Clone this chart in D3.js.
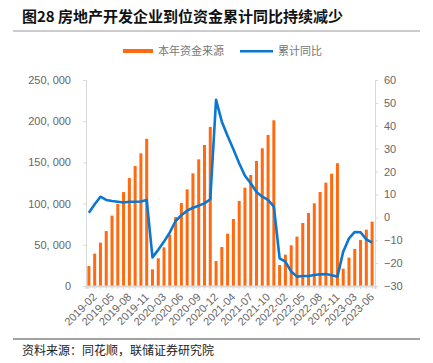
<!DOCTYPE html>
<html><head><meta charset="utf-8">
<script src="https://cdn.jsdelivr.net/npm/d3@7"></script>
<style>
body{margin:0;background:#fff;}
svg{display:block;}
</style></head>
<body><svg id="c" width="433" height="363"></svg>
<script>
const categories = ["2019-02","2019-03","2019-04","2019-05","2019-06","2019-07","2019-08","2019-09","2019-10","2019-11","2019-12",
"2020-02","2020-03","2020-04","2020-05","2020-06","2020-07","2020-08","2020-09","2020-10","2020-11","2020-12",
"2021-02","2021-03","2021-04","2021-05","2021-06","2021-07","2021-08","2021-09","2021-10","2021-11","2021-12",
"2022-02","2022-03","2022-04","2022-05","2022-06","2022-07","2022-08","2022-09","2022-10","2022-11","2022-12",
"2023-02","2023-03","2023-04","2023-05","2023-06","2023-07"];
const funds = [24270,39240,52600,66700,85400,99500,114000,131000,145600,161000,178600,
20200,33600,46900,62300,83700,100700,117300,136700,153700,171100,193100,
30300,47300,63500,81300,103200,119300,134700,151700,167100,183300,201100,
25500,38000,49400,59900,76500,88600,100300,114100,125400,136300,149000,
21000,34400,44900,55800,68400,78100];
const yoy = [2.0,5.7,9.0,7.6,7.1,6.8,6.5,6.8,6.8,6.9,7.6,
-17.5,-14.2,-10.6,-6.6,-1.6,0.9,2.9,4.2,5.1,6.1,7.9,
51.3,41.8,35.5,29.7,23.6,18.2,14.9,11.1,9.0,7.6,4.7,
-17.9,-19.4,-23.7,-25.9,-25.6,-25.6,-25.2,-24.9,-24.8,-25.3,-25.9,
-15.0,-9.2,-6.4,-6.5,-9.6,-11.1];
const xTickLabels = ["2019-02","2019-05","2019-08","2019-11","2020-03","2020-06","2020-09","2020-12","2021-04","2021-07","2021-10","2022-02","2022-05","2022-08","2022-11","2023-03","2023-06"];
const leftTicks = [0,50000,100000,150000,200000,250000];
const rightTicks = [-30,-20,-10,0,10,20,30,40,50,60];
const seriesNames = ["本年资金来源","累计同比"];
const title = "图28 房地产开发企业到位资金累计同比持续减少";
const source = "资料来源：同花顺，联储证券研究院";

const svg = d3.select("#c");
const L = 86, R = 375, T = 80, B = 286;
const orange = "#ff6a10", blue = "#0a78d0", grayText = "#666";
const numFont = "'Liberation Sans', Arial, sans-serif";
const cjk = "'Noto Sans CJK SC', sans-serif";

const x = d3.scaleBand().domain(categories).range([L, R]).paddingInner(0).paddingOuter(0);
const yL = d3.scaleLinear().domain([0,250000]).range([B, T]);
const yR = d3.scaleLinear().domain([-30,60]).range([B, T]);

// title
svg.append("text").attr("x",22).attr("y",22).attr("font-family",cjk).attr("font-weight","bold")
  .attr("font-size",15).attr("fill","#111").text(title);
svg.append("line").attr("x1",13).attr("x2",420).attr("y1",31).attr("y2",31).attr("stroke","#999").attr("stroke-width",1.2);

// legend
svg.append("rect").attr("x",123).attr("y",49).attr("width",30).attr("height",4).attr("fill",orange);
svg.append("text").attr("x",158).attr("y",55).attr("font-family",cjk).attr("font-size",11).attr("fill","#777").text(seriesNames[0]);
svg.append("rect").attr("x",240).attr("y",50).attr("width",33).attr("height",2.5).attr("fill",blue);
svg.append("text").attr("x",278).attr("y",55).attr("font-family",cjk).attr("font-size",11).attr("fill","#777").text(seriesNames[1]);

// left axis
const fmt = d => d3.format(",")(d).replace(/,/g, ", ");
const gL = svg.append("g").attr("transform",`translate(${L},0)`)
  .call(d3.axisLeft(yL).tickValues(leftTicks).tickSize(3).tickPadding(12).tickFormat(fmt));
gL.select(".domain").attr("stroke","#d9d9d9");
gL.selectAll(".tick line").attr("stroke","#d9d9d9");
gL.selectAll("text").attr("font-family",numFont).attr("font-size",11).attr("fill",grayText);

// right axis
const gR = svg.append("g").attr("transform",`translate(${R},0)`)
  .call(d3.axisRight(yR).tickValues(rightTicks).tickSize(3).tickPadding(6).tickFormat(d => d < 0 ? "\u2212" + Math.abs(d) : d));
gR.select(".domain").attr("stroke","#d9d9d9");
gR.selectAll(".tick line").attr("stroke","#d9d9d9");
gR.selectAll("text").attr("font-family",numFont).attr("font-size",11).attr("fill",grayText);

// bars
svg.append("g").selectAll("rect").data(funds).join("rect")
  .attr("x",(d,i)=>x(categories[i]) + x.bandwidth()/2 - 1.5)
  .attr("width",3)
  .attr("y",d=>yL(d)).attr("height",d=>B - yL(d))
  .attr("fill",orange);

// bottom axis
const gB = svg.append("g").attr("transform",`translate(0,${B})`)
  .call(d3.axisBottom(x).tickValues(categories).tickSize(3).tickFormat(d => xTickLabels.includes(d) ? d : ""));
gB.select(".domain").attr("stroke","#d9d9d9").attr("stroke-width",2);
gB.selectAll(".tick line").attr("stroke","#d9d9d9");
gB.selectAll("text").attr("font-family",numFont).attr("font-size",11).attr("fill",grayText)
  .attr("text-anchor","end").attr("transform","translate(2,2) rotate(-45)").attr("dy","0.5em").attr("dx","-0.2em");

// line
const line = d3.line().x((d,i)=>x(categories[i]) + x.bandwidth()/2).y(d=>yR(d));
svg.append("path").datum(yoy).attr("d",line).attr("fill","none").attr("stroke",blue)
  .attr("stroke-width",2.6).attr("stroke-linejoin","round");

// footer
svg.append("line").attr("x1",13).attr("x2",420).attr("y1",339).attr("y2",339).attr("stroke","#444").attr("stroke-width",1);
svg.append("text").attr("x",22).attr("y",355).attr("font-family",cjk).attr("font-size",12).attr("fill","#222").text(source);
</script></body></html>
